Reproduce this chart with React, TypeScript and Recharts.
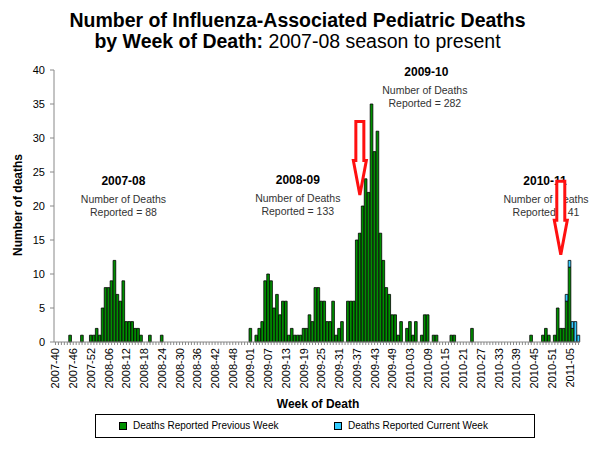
import React from 'react';
import { BarChart, Bar, XAxis, YAxis, ReferenceDot } from 'recharts';

const FONT = '"Liberation Sans", Arial, Helvetica, sans-serif';

// [year, first week, last week] shown on the category axis
const yearWeeks: [number, number, number][] = [
  [2007, 40, 52],
  [2008, 1, 53],
  [2009, 1, 52],
  [2010, 1, 52],
  [2011, 1, 8],
];

// deaths reported previous week, by week of death
const prev2007 = [0, 0, 0, 0, 0, 1, 0, 0, 0, 1, 0, 0, 1];
const prev2008 = [
  1, 2, 1, 5, 8, 8, 9, 12, 7, 6, 9, 3, 3, 3, 2, 2, 1, 0, 0, 1, 0, 0, 0, 1, 0, 0, 0,
  0, 0, 0, 0, 0, 0, 0, 0, 0, 0, 0, 0, 0, 0, 0, 0, 0, 0, 0, 0, 0, 0, 0, 0, 0, 0,
];
const prev2009 = [
  2, 0, 1, 2, 3, 9, 10, 9, 5, 7, 4, 6, 6, 1, 2, 1, 1, 1, 2, 2, 4, 3, 8, 8, 6, 6,
  3, 3, 6, 1, 2, 3, 0, 6, 6, 6, 15, 16, 20, 24, 22, 35, 28, 31, 16, 12, 8, 7, 4, 4, 1, 3,
];
const prev2010 = [
  0, 2, 3, 1, 3, 0, 1, 4, 4, 0, 1, 1, 0, 0, 0, 0, 1, 1, 0, 0, 0, 0, 0, 2, 0, 0,
  0, 0, 0, 0, 0, 0, 0, 0, 0, 0, 0, 0, 0, 0, 0, 0, 0, 1, 0, 0, 0, 1, 2, 1, 0, 1,
];
const prev2011 = [5, 2, 2, 6, 11, 2, 0, 0];

// deaths reported current week (only the latest weeks)
const current2011 = [0, 0, 0, 1, 1, 1, 3, 1];

const seasons = [
  { name: '2007-08', week: '2008-11', y: 23.7, total: 88, dx: 0 },
  { name: '2008-09', week: '2009-17', y: 23.8, total: 133, dx: 0 },
  { name: '2009-10', week: '2010-08', y: 39.7, total: 282, dx: 1.5 },
  { name: '2010-11', week: '2010-49', y: 23.7, total: 41, dx: -1 },
];

const arrows = [
  { week: '2009-38', y: 21.4 },
  { week: '2011-02', y: 12.6 },
];

const yTicks = [0, 5, 10, 15, 20, 25, 30, 35, 40];

const weeks: string[] = [];
yearWeeks.forEach(([year, from, to]) => {
  for (let w = from; w <= to; w++) weeks.push(`${year}-${String(w).padStart(2, '0')}`);
});

const previous = [...prev2007, ...prev2008, ...prev2009, ...prev2010, ...prev2011];
const current = [...new Array(weeks.length - current2011.length).fill(0), ...current2011];

const data = weeks.map((week, i) => ({ week, previous: previous[i], current: current[i] }));

const WeekTick = (props: any) => {
  const { x, y, payload } = props;
  if (weeks.indexOf(payload.value) % 6 !== 0) return null;
  return (
    <text
      x={x}
      y={y}
      dy="0.36em"
      transform={`rotate(-90 ${x} ${y})`}
      textAnchor="end"
      fontSize={11}
      fontFamily={FONT}
      fill="#000"
    >
      {payload.value}
    </text>
  );
};

const SeasonNote = (props: any) => {
  const { cx, cy, name, total, dx } = props;
  return (
    <g fontFamily={FONT}>
      <text x={cx + dx} y={cy + 4.3} textAnchor="middle" fontSize={12} fontWeight="bold" fill="#000">
        {name}
      </text>
      <text x={cx} y={cy + 21.8} textAnchor="middle" fontSize={10.5} fill="#333">
        Number of Deaths
      </text>
      <text x={cx} y={cy + 34.8} textAnchor="middle" fontSize={10.5} fill="#333">
        {`Reported = ${total}`}
      </text>
    </g>
  );
};

const DownArrow = (props: any) => {
  const { cx, cy } = props;
  const d = `M${cx},${cy - 1.5} L${cx - 6.5},${cy - 36} L${cx - 4},${cy - 36} L${cx - 4},${cy - 75} L${cx + 4},${cy - 75} L${cx + 4},${cy - 36} L${cx + 6.5},${cy - 36} Z`;
  return <path d={d} fill="#fff" stroke="#ff1010" strokeWidth={3} />;
};

export default function App() {
  return (
    <div style={{ position: 'absolute', left: 0, top: 0, width: 600, height: 450, fontFamily: FONT, background: '#fff' }}>
      <div
        style={{
          position: 'absolute',
          top: 10,
          left: 0,
          width: 595,
          textAlign: 'center',
          fontSize: 19.5,
          lineHeight: '21px',
          color: '#000',
        }}
      >
        <div style={{ fontWeight: 'bold' }}>Number of Influenza-Associated Pediatric Deaths</div>
        <div>
          <b>by Week of Death:</b> 2007-08 season to present
        </div>
      </div>

      <BarChart
        width={600}
        height={450}
        data={data}
        margin={{ top: 70, right: 20, left: 10, bottom: 40 }}
        barCategoryGap={0}
        barGap={0}
        style={{ position: 'absolute', left: 0, top: 0 }}
      >
        <XAxis
          dataKey="week"
          interval={0}
          height={68}
          tick={<WeekTick />}
          tickSize={3}
          tickMargin={3}
          tickLine={{ stroke: '#888' }}
          axisLine={{ stroke: '#888' }}
        />
        <YAxis
          domain={[0, 40]}
          ticks={yTicks}
          width={44}
          tickSize={4}
          tickMargin={5}
          tick={{ fontSize: 11, fill: '#000', fontFamily: FONT }}
          tickLine={{ stroke: '#888' }}
          axisLine={{ stroke: '#888' }}
        />
        <Bar dataKey="previous" stackId="a" barSize={3} fill="#009000" stroke="#000" strokeWidth={0.8} isAnimationActive={false} />
        <Bar dataKey="current" stackId="a" barSize={3} fill="#33ccff" stroke="#000" strokeWidth={0.8} isAnimationActive={false} />
        {seasons.map((s) => (
          <ReferenceDot
            key={s.name}
            x={s.week}
            y={s.y}
            r={1}
            shape={(p: any) => <SeasonNote {...p} name={s.name} total={s.total} dx={s.dx} />}
          />
        ))}
        {arrows.map((a) => (
          <ReferenceDot key={a.week} x={a.week} y={a.y} r={1} shape={(p: any) => <DownArrow {...p} />} />
        ))}
      </BarChart>

      <div
        style={{
          position: 'absolute',
          left: -42,
          top: 197,
          width: 120,
          height: 16,
          lineHeight: '16px',
          textAlign: 'center',
          fontSize: 12,
          fontWeight: 'bold',
          transform: 'rotate(-90deg)',
        }}
      >
        Number of deaths
      </div>
      <div
        style={{
          position: 'absolute',
          left: 218,
          top: 396,
          width: 200,
          lineHeight: '16px',
          textAlign: 'center',
          fontSize: 12,
          fontWeight: 'bold',
        }}
      >
        Week of Death
      </div>

      <div
        style={{
          position: 'absolute',
          left: 95,
          top: 414,
          width: 440,
          height: 24,
          border: '1px solid #000',
          boxSizing: 'border-box',
          fontSize: 10,
        }}
      >
        <div style={{ position: 'absolute', left: 23, top: 7, width: 8, height: 8, background: '#009000', border: '1px solid #000', boxSizing: 'border-box' }} />
        <div style={{ position: 'absolute', left: 37, top: 5, lineHeight: '12px' }}>Deaths Reported Previous Week</div>
        <div style={{ position: 'absolute', left: 238, top: 7, width: 8, height: 8, background: '#33ccff', border: '1px solid #000', boxSizing: 'border-box' }} />
        <div style={{ position: 'absolute', left: 252, top: 5, lineHeight: '12px' }}>Deaths Reported Current Week</div>
      </div>
    </div>
  );
}
